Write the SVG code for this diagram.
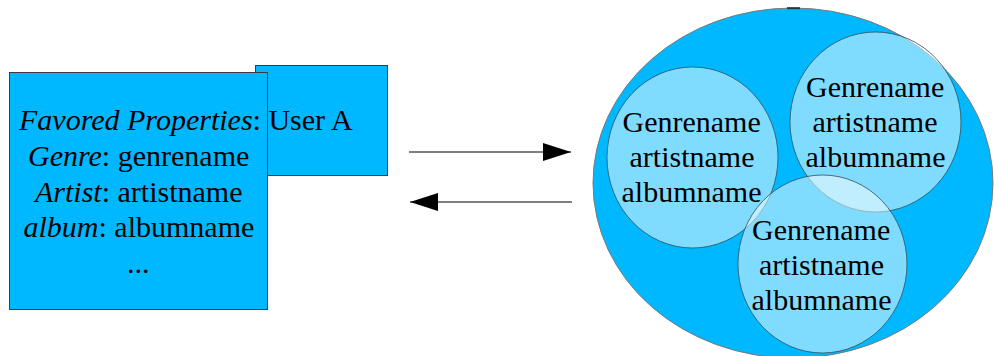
<svg xmlns="http://www.w3.org/2000/svg" width="994" height="356" viewBox="0 0 994 356">
  <style>
    .box { fill: #00b8ff; stroke: #3c3c3c; stroke-width: 1; }
    .cluster { fill: #00b8ff; stroke: #7a7a7a; stroke-width: 1; }
    .set { fill: #ffffff; fill-opacity: 0.5; stroke: #2f4f5c; stroke-width: 0.8; }
    .lbl { font-size: 30px; fill: #000; }
    .conn { stroke: #000; stroke-width: 1.2; fill: none; }
  </style>
  <defs>
    <marker id="head" viewBox="0 0 28 18" refX="28" refY="9" markerWidth="28" markerHeight="18" markerUnits="userSpaceOnUse" orient="auto">
      <path d="M0,0 L28,9 L0,18 Z" fill="#000"/>
    </marker>
  </defs>

  <!-- user profile card -->
  <g id="user-a">
    <rect class="box" x="255.5" y="65.5" width="132" height="110"/>
  </g>
  <g id="favored-properties">
    <rect class="box" x="9.5" y="72.5" width="258" height="237"/>
    <text class="lbl" font-family="'Liberation Serif'" x="19" y="130"><tspan font-style="italic">Favored Properties</tspan>: User A</text>
    <text class="lbl" font-family="'Liberation Serif'" x="28" y="166"><tspan font-style="italic">Genre</tspan>: genrename</text>
    <text class="lbl" font-family="'Liberation Serif'" x="35" y="201.5"><tspan font-style="italic">Artist</tspan>: artistname</text>
    <text class="lbl" font-family="'Liberation Serif'" x="23.5" y="237"><tspan font-style="italic">album</tspan>: albumname</text>
    <text class="lbl" font-family="'Liberation Serif'" x="127" y="273">...</text>
  </g>

  <!-- request / response connectors -->
  <g id="connectors">
    <line class="conn" x1="409" y1="152" x2="571" y2="152" marker-end="url(#head)"/>
    <line class="conn" x1="572" y1="202" x2="410" y2="202" marker-end="url(#head)"/>
  </g>

  <!-- clustered property sets -->
  <g id="cluster">
    <ellipse class="cluster" cx="793" cy="183" rx="200" ry="175"/>
    <path d="M787,8.2 L800,8.2" stroke="#1a3a4a" stroke-width="2"/>
  </g>
  <g id="set-left">
    <ellipse class="set" cx="692.5" cy="157.5" rx="85.5" ry="90.5"/>
  </g>
  <g id="set-top-right">
    <ellipse class="set" cx="875.5" cy="122" rx="85.5" ry="90"/>
  </g>
  <g id="set-bottom">
    <ellipse class="set" cx="822.5" cy="264" rx="84.5" ry="89"/>
  </g>
  <g id="set-labels">
    <text class="lbl" font-family="'Liberation Serif'" x="622.5" y="132">Genrename</text>
    <text class="lbl" font-family="'Liberation Serif'" x="629.5" y="167">artistname</text>
    <text class="lbl" font-family="'Liberation Serif'" x="621.5" y="202">albumname</text>

    <text class="lbl" font-family="'Liberation Serif'" x="806" y="97">Genrename</text>
    <text class="lbl" font-family="'Liberation Serif'" x="812.5" y="132">artistname</text>
    <text class="lbl" font-family="'Liberation Serif'" x="805.5" y="167">albumname</text>

    <text class="lbl" font-family="'Liberation Serif'" x="752" y="240">Genrename</text>
    <text class="lbl" font-family="'Liberation Serif'" x="759" y="275">artistname</text>
    <text class="lbl" font-family="'Liberation Serif'" x="751.5" y="310">albumname</text>
  </g>
</svg>
